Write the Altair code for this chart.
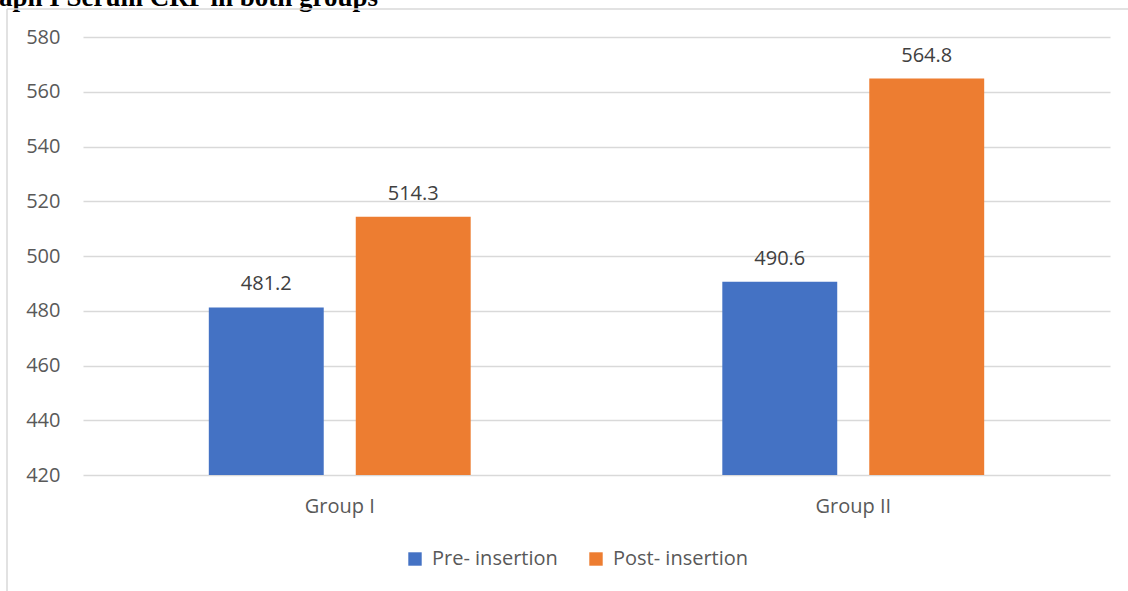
import altair as alt
import pandas as pd

groups = ["Group I", "Group II"]
series = ["Pre- insertion", "Post- insertion"]
pre_values = [481.2, 490.6]
post_values = [514.3, 564.8]
y_ticks = [420, 440, 460, 480, 500, 520, 540, 560, 580]
colors = ["#4472C4", "#ED7D31"]
title_text = "aph I Serum CRP in both groups"

rows = []
for g, a, b in zip(groups, pre_values, post_values):
    rows.append({"group": g, "series": series[0], "value": a})
    rows.append({"group": g, "series": series[1], "value": b})
df = pd.DataFrame(rows)

W, H = 1027, 438
FONT = "Open Sans"
FS = 20

x_enc = alt.X(
    "group:N", sort=groups,
    scale=alt.Scale(paddingInner=0.49, paddingOuter=0.245),
    axis=alt.Axis(title=None, labelAngle=0, labelFontSize=FS, labelColor="#595959",
                  labelFont=FONT, domain=False, ticks=False, labelPadding=21),
)
xoff_enc = alt.XOffset("series:N", sort=series,
                       scale=alt.Scale(paddingInner=0.218, paddingOuter=0))
y_scale = alt.Scale(domain=[420, 580], zero=False, nice=False)

bars = alt.Chart(df).mark_bar().encode(
    x=x_enc,
    xOffset=xoff_enc,
    y=alt.Y("value:Q", scale=y_scale,
            axis=alt.Axis(title=None, values=y_ticks, labelFontSize=FS, labelColor="#595959",
                          labelFont=FONT, domain=False, ticks=False, labelPadding=23,
                          gridColor="#d9d9d9", gridWidth=1.3)),
    y2=alt.datum(420),
    color=alt.Color("series:N", sort=series,
                    scale=alt.Scale(domain=series, range=colors),
                    legend=alt.Legend(title=None, orient="none", legendX=322, legendY=512,
                                      direction="horizontal", symbolType="square",
                                      symbolSize=180, symbolStrokeWidth=0,
                                      labelFontSize=FS, labelColor="#595959", labelFont=FONT,
                                      labelOffset=7, columnPadding=28)),
)

labels = alt.Chart(df).mark_text(dy=-23, fontSize=FS, color="#404040", font=FONT).encode(
    x=alt.X("group:N", sort=groups),
    xOffset=alt.XOffset("series:N", sort=series),
    y=alt.Y("value:Q"),
    text=alt.Text("value:Q", format=".1f"),
)

title_df = pd.DataFrame({"t": [title_text]})
title = alt.Chart(title_df).mark_text(
    align="left", baseline="alphabetic", fontSize=27, fontWeight="bold",
    font="Liberation Serif", color="#000000"
).encode(x=alt.value(-84), y=alt.value(-31), text="t:N")

frame_df = pd.DataFrame({"k": [0]})
frame_left = alt.Chart(frame_df).mark_rule(color="#d9d9d9", strokeWidth=1.5).encode(
    x=alt.value(-76), y=alt.value(-28), y2=alt.value(H + 120))
frame_top = alt.Chart(frame_df).mark_rule(color="#d9d9d9", strokeWidth=1.5).encode(
    x=alt.value(-76), x2=alt.value(W + 30), y=alt.value(-28))

chart = alt.layer(bars, labels, title, frame_left, frame_top).properties(
    width=W, height=H,
    autosize=alt.AutoSizeParams(type="none"),
    padding={"left": 83, "top": 37, "right": 18, "bottom": 116},
).configure(background="white").configure_view(stroke=None)

chart.save("out.html", embed_options={"renderer": "svg", "actions": False})
